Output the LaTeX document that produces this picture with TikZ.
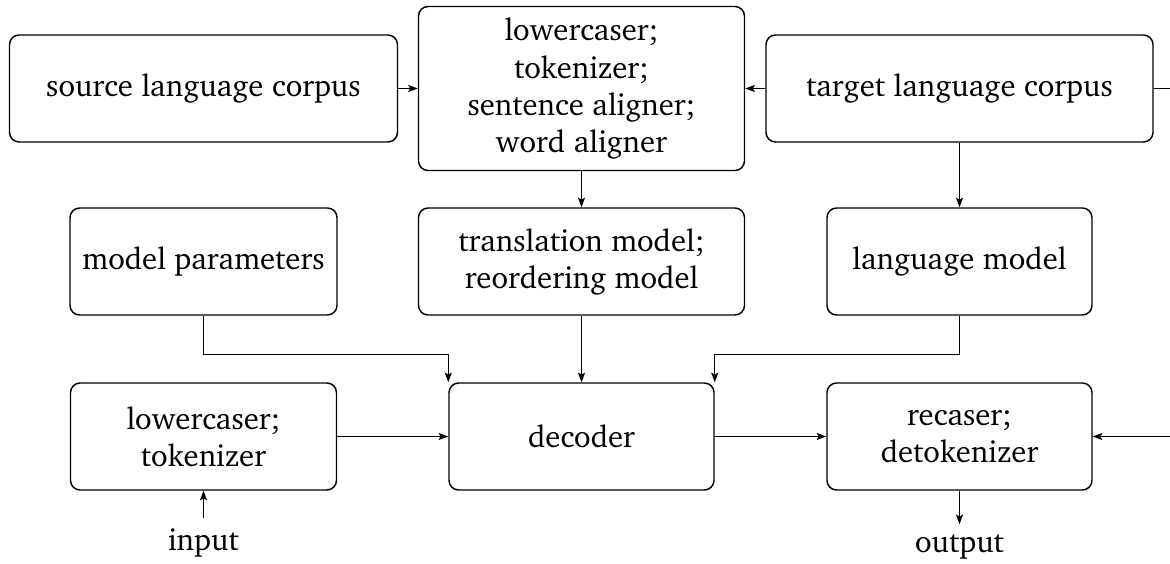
\documentclass[tikz,border=0pt]{standalone}
\usepackage[T1]{fontenc}
\usepackage{charter}
\usetikzlibrary{arrows.meta,calc}
\tikzset{
  block/.style 2 args={draw, rounded corners=3pt, align=center, inner sep=0pt,
    minimum width=#1*0.3125pt, minimum height=#2*0.3125pt, line width=0.45pt},
  arr/.style={-{Stealth[length=3pt,width=2.2pt,inset=0.6pt]}, line width=0.45pt},
  lbl/.style={anchor=base},
}
\begin{document}
\begin{tikzpicture}[x=0.3125pt, y=-0.3125pt, font=\fontsize{9.6}{11.6}\selectfont]
  \useasboundingbox (0,0) rectangle (1170,564);
  \clip (0,0) rectangle (1170,564);

  % top row: corpora and preprocessing
  \node[block={388}{107}] (src)  at (203.5,88.5) {source language corpus};
  \node[block={326}{164}] (prep) at (581.5,88.5) {lowercaser;\\tokenizer;\\sentence aligner;\\word aligner};
  \node[block={387}{107}] (tgt)  at (959.5,88.5) {target language corpus};

  % middle row: models
  \node[block={267}{107}] (mp) at (203.5,261.5) {model parameters};
  \node[block={326}{107}] (tm) at (581.5,261.5) {translation model;\\reordering model};
  \node[block={265}{107}] (lm) at (959.5,261.5) {language model};

  % bottom row: translation pipeline
  \node[block={266}{107}] (lc)  at (203.5,436.5) {lowercaser;\\tokenizer};
  \node[block={265}{107}] (dec) at (581.5,436.5) {decoder};
  \node[block={265}{107}] (rc)  at (959.5,436.5) {recaser;\\detokenizer};

  \node[lbl] (in)  at (203.5,551) {input};
  \node[lbl] (out) at (959.5,553) {output};

  % connectors
  \draw[arr] (src.east) -- (prep.west |- src.east);
  \draw[arr] (tgt.west) -- (prep.east |- tgt.west);
  \draw[arr] (prep.south) -- (tm.north);
  \draw[arr] (tgt.south) -- (lm.north);
  \draw[arr] (mp.south) -- ++(0,39) -| (dec.north west);
  \draw[arr] (tm.south) -- (dec.north -| tm.south);
  \draw[arr] (lm.south) -- ++(0,39) -| (dec.north east);
  \draw[arr] (lc.east) -- (dec.west);
  \draw[arr] (dec.east) -- (rc.west);
  \draw[arr] (tgt.east) -- ++(60,0) |- (rc.east);
  \draw[arr] (in.north) -- (lc.south);
  \draw[arr] (rc.south) -- (out.north);
\end{tikzpicture}
\end{document}
